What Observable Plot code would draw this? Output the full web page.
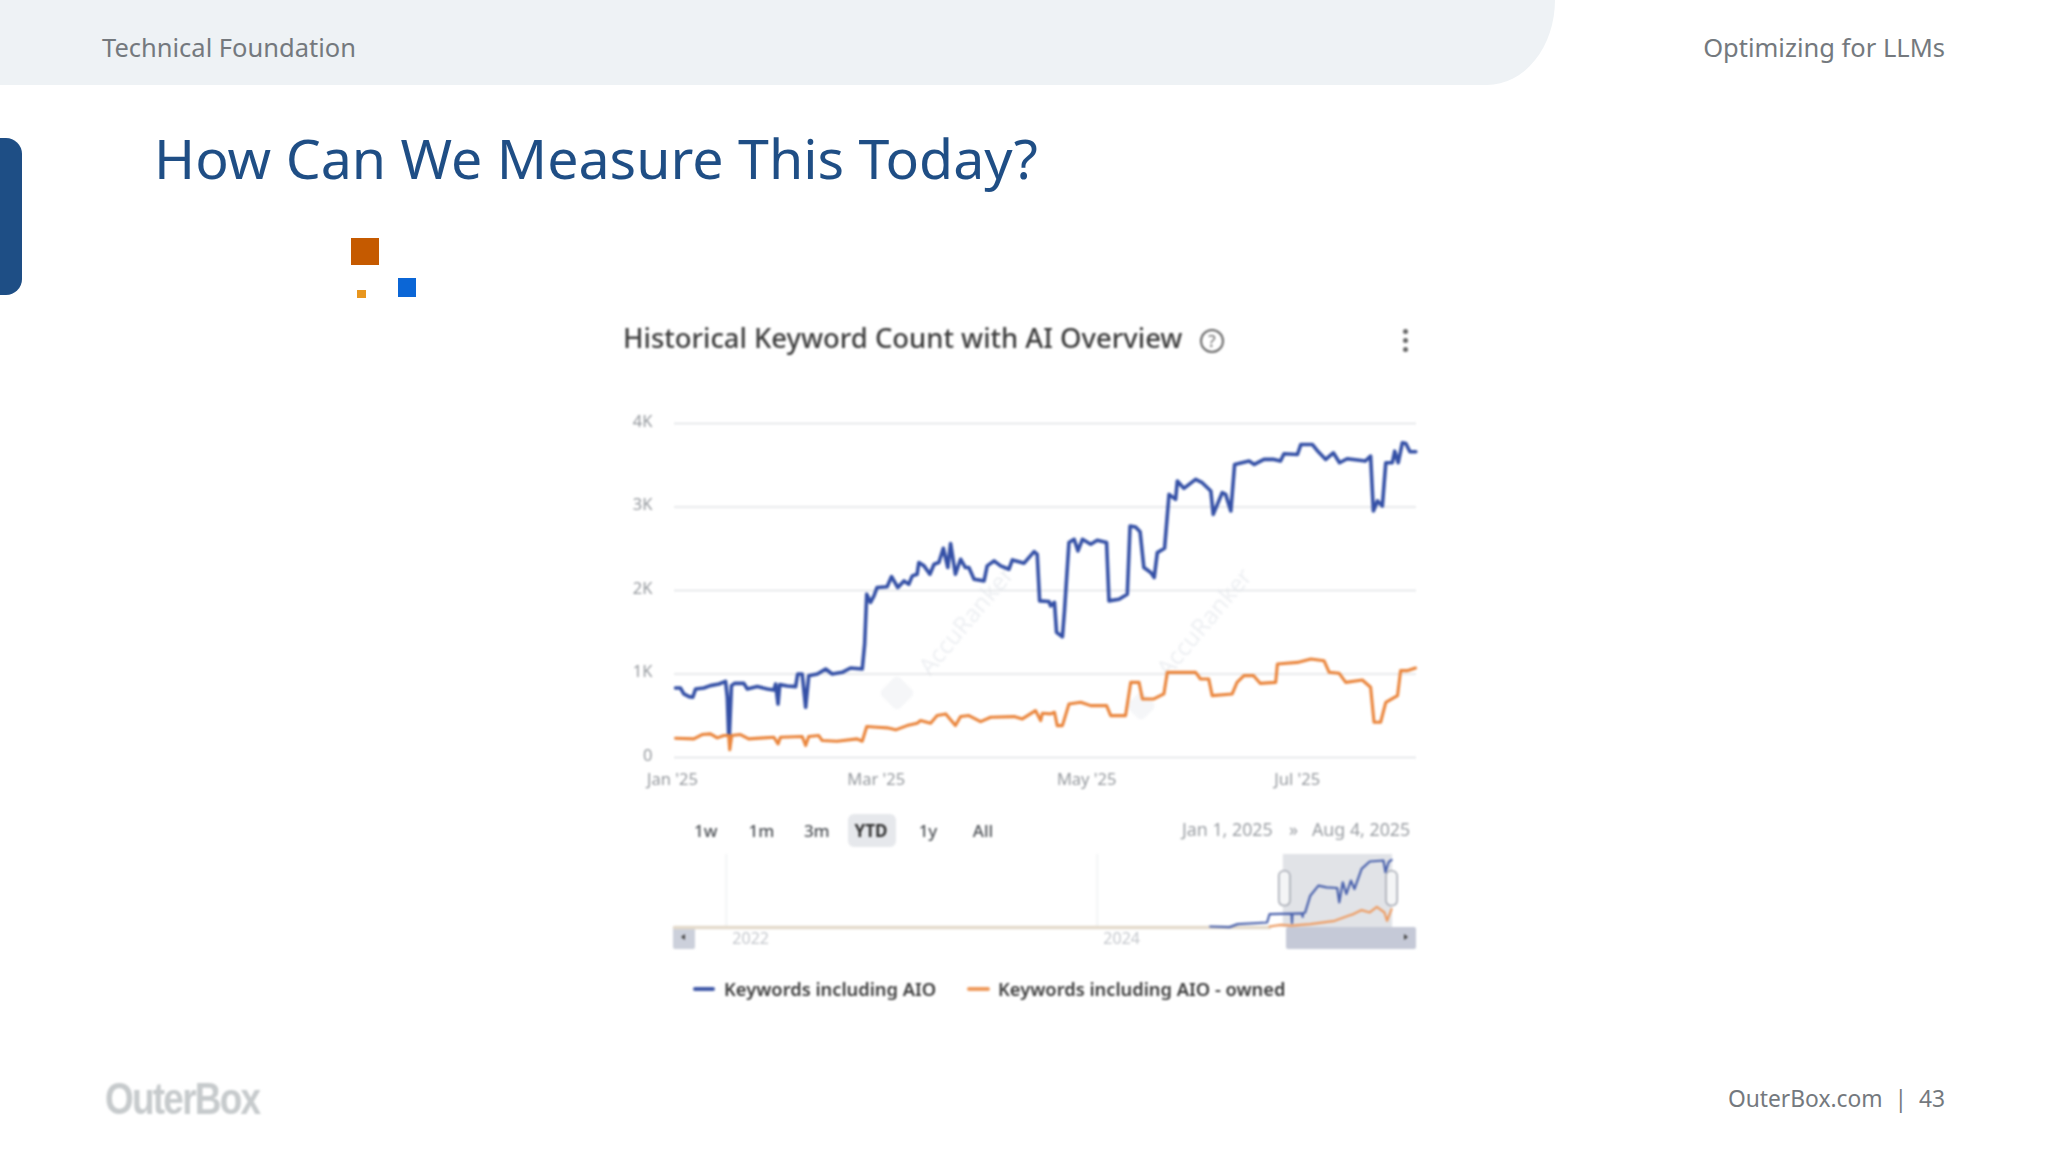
<!DOCTYPE html>
<html>
<head>
<meta charset="utf-8">
<script src="https://cdn.jsdelivr.net/npm/d3@7"></script>
<script src="https://cdn.jsdelivr.net/npm/@observablehq/plot@0.6"></script>
<style>
html,body{margin:0;padding:0;background:#fff;}
body{position:relative;width:2048px;height:1152px;overflow:hidden;font-family:"Noto Sans",sans-serif;}
.a{position:absolute;white-space:nowrap;}
#chart{position:absolute;left:0;top:0;width:2048px;height:1152px;filter:blur(1px);}
#chart svg{position:absolute;overflow:visible;}
</style>
</head>
<body>
<div class="a" style="left:0;top:0;width:1555px;height:85px;background:#eef2f5;border-bottom-right-radius:68px 85px;"></div>
<div class="a" style="left:102px;top:30px;font-size:25.5px;line-height:35px;color:#74797e;">Technical Foundation</div>
<div class="a" style="right:103px;top:30px;font-size:25.5px;line-height:35px;color:#74797e;">Optimizing for LLMs</div>
<div class="a" style="left:0;top:138px;width:22px;height:157px;background:#1e4e85;border-radius:0 16px 16px 0;"></div>
<div class="a" style="left:154px;top:119px;font-size:55.5px;line-height:78px;color:#1f4e85;">How Can We Measure This Today?</div>
<div class="a" style="left:351px;top:238px;width:28px;height:27px;background:#c55a00;"></div>
<div class="a" style="left:357px;top:290px;width:9px;height:8px;background:#e8961e;"></div>
<div class="a" style="left:398px;top:278px;width:18px;height:19px;background:#0b66d6;"></div>
<div class="a" style="left:105px;top:1070px;font-family:'Liberation Sans',sans-serif;font-weight:700;font-size:44px;line-height:58px;letter-spacing:-2.1px;color:#c6cacc;filter:blur(1px);transform:scaleX(0.84);transform-origin:0 0;">OuterBox</div>
<div class="a" style="right:103px;top:1081px;font-size:22.8px;line-height:35px;color:#74797e;">OuterBox.com&nbsp; |&nbsp; 43</div>

<div id="chart">
  <div class="a" style="left:623px;top:318px;font-size:27.4px;line-height:40px;font-weight:500;color:#3c3c3c;">Historical Keyword Count with AI Overview</div>
  <div class="a" style="left:1200px;top:329px;width:20px;height:20px;border:2px solid #666;border-radius:50%;text-align:center;font-size:17px;line-height:20px;color:#666;">?</div>
  <div class="a" style="left:1402.5px;top:329px;width:5px;height:5px;border-radius:50%;background:#666;"></div>
  <div class="a" style="left:1402.5px;top:338px;width:5px;height:5px;border-radius:50%;background:#666;"></div>
  <div class="a" style="left:1402.5px;top:347px;width:5px;height:5px;border-radius:50%;background:#666;"></div>

  <div class="a" style="left:884px;top:680px;width:26px;height:26px;background:#f5f6f8;transform:rotate(45deg);border-radius:5px;"></div>
  <div class="a" style="left:1130px;top:695px;width:22px;height:22px;background:#f5f6f8;transform:rotate(45deg);border-radius:5px;"></div>
  <div class="a" style="left:910px;top:660px;font-size:24px;color:#eef0f3;transform:rotate(-50deg);transform-origin:0 0;">AccuRanker</div>
  <div class="a" style="left:1148px;top:662px;font-size:24px;color:#eef0f3;transform:rotate(-50deg);transform-origin:0 0;">AccuRanker</div>

  <div id="main"></div>

  <div id="ranges"></div>
  <div class="a" style="left:1182px;top:817px;font-size:17.8px;line-height:24px;color:#9a9ea3;">Jan 1, 2025</div>
  <div class="a" style="left:1289px;top:817px;font-size:17.8px;line-height:24px;color:#9a9ea3;">»</div>
  <div class="a" style="left:1312px;top:817px;font-size:17.8px;line-height:24px;color:#9a9ea3;">Aug 4, 2025</div>

  <div class="a" style="left:673px;top:927px;width:22px;height:22px;background:#ccd0db;border-radius:2px;"></div>
  <div class="a" style="left:1285.6px;top:927px;width:130.4px;height:22px;background:#c5c9d7;border-radius:2px;"></div>
  <div id="nav"></div>
  <div class="a" style="left:681px;top:934px;width:0;height:0;border-style:solid;border-width:3px 4px 3px 0;border-color:transparent #444 transparent transparent;"></div>
  <div class="a" style="left:1404px;top:934px;width:0;height:0;border-style:solid;border-width:3px 0 3px 4px;border-color:transparent transparent transparent #444;"></div>

  <div class="a" style="left:693px;top:987px;width:22px;height:4px;border-radius:2px;background:#3f58a8;"></div>
  <div class="a" style="left:724px;top:976px;font-size:18.3px;line-height:26px;font-weight:600;color:#3c3c3c;">Keywords including AIO</div>
  <div class="a" style="left:967px;top:987px;width:23px;height:4px;border-radius:2px;background:#ef9a5c;"></div>
  <div class="a" style="left:998px;top:976px;font-size:18.3px;line-height:26px;font-weight:600;color:#3c3c3c;">Keywords including AIO - owned</div>
</div>

<script>
const yTickValues = [0, 1000, 2000, 3000, 4000];
const yTickLabels = ["0", "1K", "2K", "3K", "4K"];
const xTickDates = ["2025-01-01", "2025-03-01", "2025-05-01", "2025-07-01"];
const xTickLabels = ["Jan '25", "Mar '25", "May '25", "Jul '25"];
const rangeLabels = ["1w", "1m", "3m", "YTD", "1y", "All"];
const navTickDates = ["2022-01-01", "2024-01-01"];
const navTickLabels = ["2022", "2024"];

const blueDays = [0.3,1.7,2.7,4.2,5.3,6.1,8.5,10.4,12.9,14.8,15.3,15.7,15.9,16.5,17.4,20.1,21.1,24,26.9,28.8,29.3,30,30.5,32.7,35.1,35.7,37,38,38.9,41.4,43.8,45.7,48.6,51,54.4,55.1,55.7,56.8,57.8,58.7,61.6,62.9,64.7,66.5,67.9,68.9,70.3,70.8,72.3,74,75.2,76.6,77.9,79.2,80,81.4,82.9,84.3,85.3,86.8,89.7,90.6,92.6,94.5,96.9,97.9,101.3,104.2,105.1,105.8,108.5,109,110.1,110.7,112.4,113,114.3,115.8,116.9,118.2,120.6,122.5,125.2,125.9,128.8,131.2,132,133.6,134.9,136,138,139,139.9,142,143.3,145.2,145.7,147.6,151,152.9,155.4,156.1,157.3,158.7,159.7,161.2,162.3,166.5,168,170.8,173.7,175.6,176.6,180.5,181.5,184.8,186.2,188.7,190.9,192.7,194.9,200.2,201.7,202.5,203.7,205.1,206.1,208,208.7,209.7,210.9,211.9,213.1,214.8];
const blueValues = [833,833,761,729,721,821,833,861,880,912,721,263,263,861,888,888,821,849,821,809,880,641,873,857,849,1000,1000,602,980,1000,1060,1000,1020,1072,1060,1359,1956,1857,1936,2036,2044,2167,2036,2115,2076,2175,2195,2335,2295,2195,2315,2335,2506,2275,2562,2195,2374,2275,2275,2135,2115,2295,2355,2295,2255,2366,2327,2466,2434,1876,1868,1817,1857,1498,1446,1757,2574,2613,2474,2613,2554,2602,2574,1876,1896,1956,2773,2761,2705,2275,2215,2155,2454,2506,3151,3092,3311,3223,3331,3291,3191,2912,3032,3171,3151,2952,3510,3550,3510,3570,3570,3550,3637,3629,3749,3749,3677,3570,3649,3530,3578,3550,3610,2952,3072,3012,3530,3530,3669,3530,3769,3761,3661,3661];

const orangeDays = [0.3,5.6,8,10.4,12.4,14.3,15.7,16,16.6,19.1,21.5,25.9,28.8,30,30.7,37,38,38.9,41.8,42.8,47.1,52.9,54.4,55.7,58.7,61.6,64.1,67.4,70.3,71.3,74.2,76.1,78.6,81.4,82.9,85.3,88.7,91.6,98.4,100.8,104.6,106.1,106.6,109,110.1,110.9,112.4,114.3,117.7,120.6,125.2,126.4,130.7,132.2,134.6,135.6,138.9,141.8,142.8,151,152.4,154.8,155.8,161.6,163,165,167.8,169.7,174.2,174.7,180.5,184.4,188.2,189.7,192.6,194.5,199.3,201.7,202.7,204.6,206.1,209.5,210.4,212.3,214.7];
const orangeValues = [231,223,275,283,235,263,263,92,263,275,223,235,243,163,243,251,143,251,263,203,195,223,195,371,363,355,331,382,410,442,410,502,522,382,490,502,430,482,490,462,562,442,530,522,542,382,382,641,661,621,621,502,502,900,900,701,701,761,1020,1020,940,940,741,761,900,980,980,888,900,1120,1139,1179,1159,1020,1008,900,928,841,422,422,661,741,1040,1040,1072];

const navBaseDays = [-1198, -27];
const navBaseValues = [0, 0];
const navBlueDays = [-144,-106,-90,-32,-27,16,17,18,37,38,39,43,53,69,85,106,110,117,124,133,140,154,170,197,201,207,213];
const navBlueValues = [56,20,188,281,750,780,260,780,790,600,800,844,1781,2344,2250,2212,1406,2531,1875,2625,2156,3281,3694,3750,3094,3656,3788];
const navOrangeDays = [-27,-5,16,53,101,128,138,154,170,184,199,204,213];
const navOrangeValues = [56,150,100,190,375,656,750,975,843,1160,840,375,1030];

const BLUE = "#3450a6", ORANGE = "#ea853c";
const dayToDate = d => new Date(Date.UTC(2025, 0, 1) + d * 864e5);
const rows = (days, vals) => days.map((d, i) => ({date: dayToDate(d), value: vals[i]}));
const iso = s => new Date(s + "T00:00:00Z");

// Main chart
const main = Plot.plot({
  width: 800, height: 400,
  marginLeft: 54, marginRight: 4, marginTop: 23, marginBottom: 43,
  style: {background: "transparent", fontFamily: "'Noto Sans',sans-serif", fontSize: "16px", overflow: "visible"},
  x: {type: "utc", domain: [dayToDate(0), dayToDate(215)], label: null},
  y: {domain: [0, 4000], label: null},
  marks: [
    Plot.ruleY(yTickValues, {stroke: "#e0e2e5", strokeWidth: 1.6}),
    Plot.axisY({ticks: yTickValues, tickFormat: v => yTickLabels[yTickValues.indexOf(v)], tickSize: 0, tickPadding: 22, label: null, color: "#94989d", fontSize: 16.5, dy: -2}),
    Plot.axisX({ticks: xTickDates.map(iso), tickFormat: d => xTickLabels[xTickDates.indexOf(d.toISOString().slice(0, 10))], tickSize: 0, tickPadding: 16, label: null, color: "#94989d", fontSize: 16.5, dx: -2}),
    Plot.line(rows(blueDays, blueValues), {x: "date", y: "value", stroke: BLUE, strokeWidth: 3.6, strokeLinejoin: "round"}),
    Plot.line(rows(orangeDays, orangeValues), {x: "date", y: "value", stroke: ORANGE, strokeWidth: 3.1, strokeLinejoin: "round"})
  ]
});
main.style.left = "620px"; main.style.top = "400px";
document.getElementById("main").append(main);

// Navigator
const selStart = dayToDate(0), selEnd = dayToDate(215);
const nav = Plot.plot({
  width: 800, height: 107,
  marginLeft: 54, marginRight: 4, marginTop: 9, marginBottom: 25,
  style: {background: "transparent", fontFamily: "'Noto Sans',sans-serif", fontSize: "16px", overflow: "visible"},
  x: {type: "utc", domain: [dayToDate(-1198), dayToDate(262)], label: null},
  y: {domain: [0, 4087], label: null, axis: null},
  marks: [
    Plot.rect([{}], {x1: () => selStart, x2: () => selEnd, y1: () => 0, y2: () => 4087, fill: "#e1e3e7"}),
    Plot.ruleX(navTickDates.map(iso), {stroke: "#eceef0", strokeWidth: 1.2}),
    Plot.axisX({ticks: navTickDates.map(iso), tickFormat: d => navTickLabels[navTickDates.indexOf(d.toISOString().slice(0, 10))], tickSize: 0, tickPadding: 5, label: null, color: "#c4c7cc", fontSize: 16, textAnchor: "start", dx: 6}),
    Plot.line(rows(navBaseDays, navBaseValues), {x: "date", y: "value", stroke: "#e4dacb", strokeWidth: 3.6}),
    Plot.line(rows(navBlueDays, navBlueValues), {x: "date", y: "value", stroke: "#4a62ad", strokeWidth: 2.2}),
    Plot.line(rows(navOrangeDays, navOrangeValues), {x: "date", y: "value", stroke: "#ee9c62", strokeWidth: 2.2}),
    Plot.rect([{}], {x1: () => dayToDate(-8), x2: () => dayToDate(14), y1: () => 1200, y2: () => 3150, fill: "#f4f5f6", stroke: "#a8acb5", strokeWidth: 1.6, rx: 5}),
    Plot.rect([{}], {x1: () => dayToDate(203), x2: () => dayToDate(225), y1: () => 1200, y2: () => 3150, fill: "#f4f5f6", stroke: "#a8acb5", strokeWidth: 1.6, rx: 5})
  ]
});
nav.style.left = "620px"; nav.style.top = "845px";
document.getElementById("nav").append(nav);

// Range buttons
const rangeCenters = [705.7, 761.5, 816.8, 871, 928, 983];
const rHost = document.getElementById("ranges");
rangeLabels.forEach((t, i) => {
  const on = t === "YTD";
  if (on) {
    const b = document.createElement("div");
    b.className = "a";
    b.style.cssText = "left:848px;top:814px;width:48px;height:33px;background:#e6e8ec;border-radius:6px;";
    rHost.append(b);
  }
  const el = document.createElement("div");
  el.className = "a";
  el.textContent = t;
  el.style.cssText = `left:${rangeCenters[i]}px;top:819px;transform:translateX(-50%);font-size:17px;line-height:24px;color:${on ? "#333" : "#4e5257"};font-weight:${on ? 700 : 500};`;
  rHost.append(el);
});
</script>
</body>
</html>
